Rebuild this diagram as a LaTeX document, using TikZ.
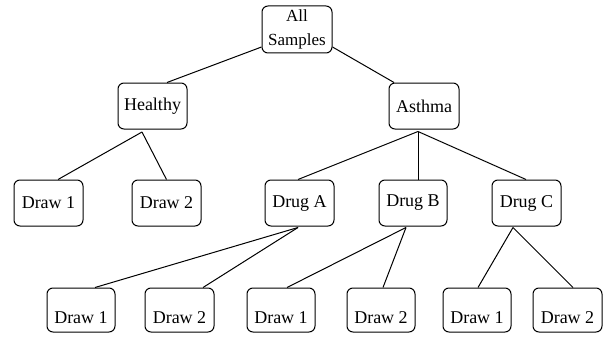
\documentclass[tikz,border=0pt]{standalone}
\usepackage{fontspec}
\setmainfont{Liberation Serif}
\usepackage{tikz}

\begin{document}
\begin{tikzpicture}[x=1pt,y=-1pt,line width=1pt,
		box/.style={draw,rounded corners=6pt,minimum width=69pt,minimum height=46pt,
			inner sep=0pt,font=\fontsize{18}{24}\selectfont},
		lowtext/.style={minimum height=44pt,text height=26pt,text depth=0pt}]

			\useasboundingbox (0,0) rectangle (605,337);

			% top
			\node[box,minimum width=70pt,minimum height=47pt,align=center,
				font=\fontsize{17}{24}\selectfont] (all) at (297,29.5) {All\\Samples};

			% second row
			\node[box] (healthy) at (152.5,106) {Healthy};
			\node[box,minimum width=70pt] (asthma) at (424,106) {Asthma};

			% third row
			\node[box] (hdraw1) at (48.5,203) {Draw 1};
			\node[box] (hdraw2) at (166.5,203) {Draw 2};
			\node[box] (druga) at (299.5,203) {Drug A};
			\node[box,minimum width=68pt] (drugb) at (413,203) {Drug B};
			\node[box] (drugc) at (526.5,203) {Drug C};

			% bottom row
			\node[box,lowtext,minimum width=68pt] (adraw1) at (81,310) {Draw 1};
			\node[box,lowtext] (adraw2) at (179.5,310) {Draw 2};
			\node[box,lowtext,minimum width=68pt] (bdraw1) at (281,310) {Draw 1};
			\node[box,lowtext,minimum width=68pt] (bdraw2) at (381,310) {Draw 2};
			\node[box,lowtext,minimum width=68pt] (cdraw1) at (477,310) {Draw 1};
			\node[box,lowtext] (cdraw2) at (567.5,310) {Draw 2};

			% edges
			\draw ([yshift=-17.5pt]all.west) -- ([xshift=14.5pt]healthy.north);
			\draw ([yshift=-17.5pt]all.east) -- ([xshift=-30pt]asthma.north);

			\draw ([xshift=-10.5pt,yshift=-2.5pt]healthy.south) -- ([xshift=9.5pt]hdraw1.north);
			\draw ([xshift=-10.5pt,yshift=-2.5pt]healthy.south) -- (hdraw2.north);

			\draw ([xshift=-6pt,yshift=-2pt]asthma.south) -- ([xshift=-1.5pt]druga.north);
			\draw ([xshift=-6pt,yshift=-2pt]asthma.south) -- ([xshift=5pt]drugb.north);
			\draw ([xshift=-6pt,yshift=-2pt]asthma.south) -- ([xshift=-0.5pt]drugc.north);

			\draw ([xshift=-1.5pt,yshift=-1pt]druga.south) -- ([xshift=14pt]adraw1.north);
			\draw ([xshift=-1.5pt,yshift=-1pt]druga.south) -- ([xshift=23.5pt]adraw2.north);
			\draw ([xshift=-7pt,yshift=-1pt]drugb.south) -- ([xshift=6pt]bdraw1.north);
			\draw ([xshift=-7pt,yshift=-1pt]drugb.south) -- ([xshift=2pt]bdraw2.north);
			\draw ([xshift=-13.5pt,yshift=-1pt]drugc.south) -- ([xshift=1pt]cdraw1.north);
			\draw ([xshift=-13.5pt,yshift=-1pt]drugc.south) -- ([xshift=5.5pt]cdraw2.north);
		\end{tikzpicture}
\end{document}
